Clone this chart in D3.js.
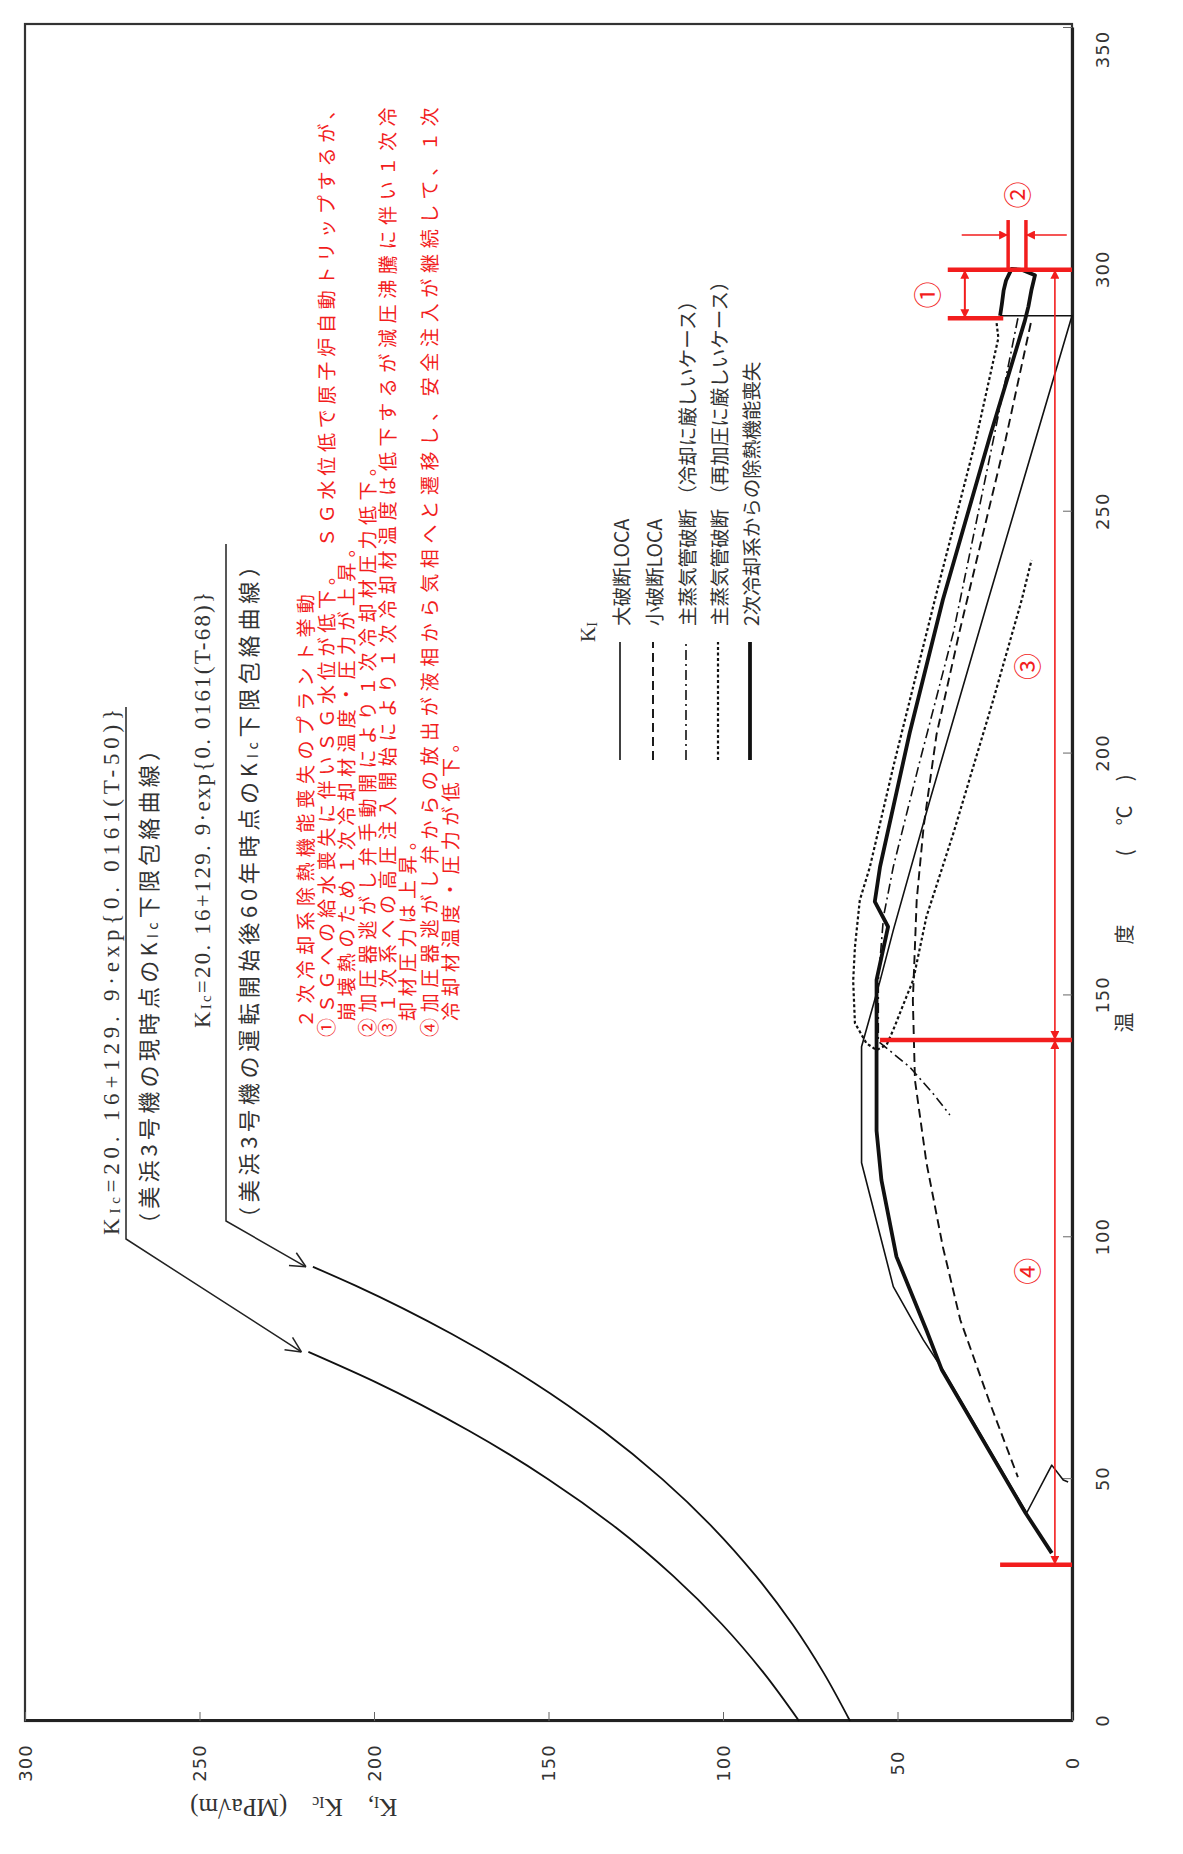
<!DOCTYPE html>
<html><head><meta charset="utf-8">
<script src="https://cdn.jsdelivr.net/npm/d3@7"></script>
<style>body{margin:0;background:#fff}</style>
</head><body>
<svg id="c" width="1183" height="1854"></svg>
<script>
// ---------------- data (T in °C, K in MPa√m) ----------------
const tempTicks=[0,50,100,150,200,250,300,350];
const kTicks=[0,50,100,150,200,250,300];

// KIc lower bound envelope curves
const kicNowT=[0,10,20,30,40,50,60,70,76.3];
const kicNowK=[78.2,88.4,100.3,114.3,130.7,150.1,172.8,199.4,218.8];
const kic60T=[0,10,20,30,40,50,60,70,80,90,93.9];
const kic60K=[63.6,71.2,80.1,90.6,102.9,117.4,134.4,154.3,177.7,205.3,217.5];

// KI transients [T, K]
const largeLOCA=[[290.5,20.6],[290.5,0],[231.8,24],[190.4,40.7],[163.5,51.2],[153,55],[139.4,60.3],[115.4,60.3],[89.8,51.2],[78.8,42.6],[72.6,37],[43,13],[52.9,5.8],[49.8,2.5],[49.4,1.1]];
const smallLOCA=[[289,11.8],[265,19],[225.6,32.1],[204,38.8],[185,42.5],[169.7,44.5],[149,45.6],[132.5,45],[115.4,41.7],[98,37],[82.9,32],[65.7,23.5],[50.4,15.5]];
const msCool=[[290,15.5],[265,22.5],[225,34],[197.3,44],[176.6,51.2],[166.3,54],[153,55.5],[140.5,55.5],[135.2,46.5],[129.7,39.8],[125.3,35]];
const msRepress=[[289,21.6],[285.9,21.1],[265,27.5],[231.8,39.3],[197.3,51.2],[176.6,57.9],[169.7,60.8],[160,62.2],[153,62.7],[144.3,62.2],[140.1,58.9],[138.7,56],[139.8,53.1],[142.9,51.2],[149.8,47.4],[153.2,45.5],[166.3,41.7],[183.5,34],[211,22.6],[231.8,14.4],[240,11.6]];
const secLoss=[[290.5,20.6],[292.9,20.1],[295.7,19.6],[297.8,18.9],[300.2,17.3],[300,14.4],[298.9,10.6],[295.9,11.6],[292.4,12.5],[289.5,13.5],[265.6,23.5],[231.8,37],[204.3,46.5],[176.6,55],[169.4,56.5],[164.2,52.7],[153.2,56],[139.4,56],[122,56],[111.8,54.6],[96,50.3],[80.8,41.7],[72.6,37.3],[43,13.3],[34.7,5.8]];

const legendNames=["大破断LOCA","小破断LOCA","主蒸気管破断 （冷却に厳しいケース）","主蒸気管破断 （再加圧に厳しいケース）","2次冷却系からの除熱機能喪失"];

const noteLines=["２次冷却系除熱機能喪失のプラント挙動",
"①ＳＧへの給水喪失に伴いＳＧ水位が低下。　ＳＧ水位低で原子炉自動トリップするが、",
"崩壊熱のため１次冷却材温度・圧力が上昇。",
"②加圧器逃がし弁手動開により１次冷却材圧力低下。",
"③１次系への高圧注入開始により１次冷却材温度は低下するが減圧沸騰に伴い１次冷",
"却材圧力は上昇。",
"④加圧器逃がし弁からの放出が液相から気相へと遷移し、安全注入が継続して、１次",
"冷却材温度・圧力が低下。"];

// phase boundaries (°C) and markers
const phaseT=[300,290,140.8,32.3];
const markLabels=[["①",294.8,41.7],["②",315.5,15.9],["③",218,12.9],["④",93,12.9]];

// ---------------- layout ----------------
const W=1183,H=1854;
const CJK="'Noto Sans CJK JP',sans-serif";
const SERIF="'Liberation Serif','Noto Sans CJK JP',serif";
const RED="#f21d1d";
const svg=d3.select("#c");
const defs=svg.append("defs");
defs.append("marker").attr("id","ra").attr("viewBox","0 0 10 10").attr("refX",10).attr("refY",5)
  .attr("markerWidth",9).attr("markerHeight",9).attr("markerUnits","userSpaceOnUse")
  .attr("orient","auto-start-reverse").append("path").attr("d","M0,0L10,5L0,10z").attr("fill",RED);

// whole chart is rotated 90° counter-clockwise
const g=svg.append("g").attr("transform",`translate(0,${H}) rotate(-90)`);
const x=d3.scaleLinear().domain([0,350]).range([133,1826]);
const y=d3.scaleLinear().domain([0,300]).range([1072,25]);

// frame
g.append("rect").attr("x",x(0)).attr("y",y(300)).attr("width",x(350)+4-x(0)).attr("height",y(0)-y(300))
  .attr("fill","none").attr("stroke","#333").attr("stroke-width",2.2);

// axes
const gx=g.append("g").attr("transform",`translate(0,${y(0)})`)
  .call(d3.axisBottom(x).tickValues(tempTicks).tickSizeInner(-9).tickSizeOuter(0).tickFormat(d3.format("d")));
gx.select(".domain").attr("stroke","#222").attr("stroke-width",3.2);
gx.selectAll(".tick line").attr("stroke","#666").attr("stroke-width",1);
gx.selectAll(".tick text").attr("y",31).attr("dy","0.35em").attr("fill","#333")
  .attr("font-family","'DejaVu Sans',sans-serif").attr("font-size",18).attr("letter-spacing",1)
  .attr("x",d=>d===350?-22:0);

const gy=g.append("g").attr("transform",`translate(${x(0)},0)`)
  .call(d3.axisLeft(y).tickValues(kTicks).tickSizeInner(-9).tickSizeOuter(0).tickFormat(d3.format("d")));
gy.select(".domain").attr("stroke","#222").attr("stroke-width",3.2);
gy.selectAll(".tick line").attr("stroke","#666").attr("stroke-width",1);
gy.selectAll(".tick text").attr("x",-42).attr("dy","0.35em").attr("text-anchor","middle").attr("fill","#333")
  .attr("font-family","'DejaVu Sans',sans-serif").attr("font-size",18).attr("letter-spacing",1);

// axis titles
g.append("text").attr("x",x(169)).attr("y",1123).attr("text-anchor","middle").attr("dominant-baseline","central")
  .attr("font-family",CJK).attr("font-size",20).attr("fill","#333").attr("textLength",258).attr("lengthAdjust","spacing")
  .text("温　度　(℃)");
const kt=g.append("text").attr("transform",`translate(46,${y(223)}) rotate(-90)`).attr("text-anchor","middle")
  .attr("dominant-baseline","central").attr("font-family",SERIF).attr("font-size",25).attr("fill","#333");
kt.append("tspan").text("K");kt.append("tspan").attr("font-size",16).attr("dy",5).text("I");
kt.append("tspan").attr("dy",-5).text(",\u2003K");kt.append("tspan").attr("font-size",16).attr("dy",5).text("Ic");
kt.append("tspan").attr("dy",-5).text("\u2003(MPa√m)");

// curves
const line=d3.line().x(d=>x(d[0])).y(d=>y(d[1]));
const smooth=d3.line().x(d=>x(d[0])).y(d=>y(d[1])).curve(d3.curveMonotoneX);
g.append("path").attr("d",smooth(kicNowT.map((t,i)=>[t,kicNowK[i]]))).attr("fill","none").attr("stroke","#111").attr("stroke-width",1.8);
g.append("path").attr("d",smooth(kic60T.map((t,i)=>[t,kic60K[i]]))).attr("fill","none").attr("stroke","#111").attr("stroke-width",1.8);

const styles=[
  {d:largeLOCA,w:1.6,dash:null},
  {d:smallLOCA,w:1.9,dash:"9,5"},
  {d:msCool,w:1.6,dash:"10,4,2,4"},
  {d:msRepress,w:2.2,dash:"3,2.5"},
  {d:secLoss,w:3.8,dash:null}
];
styles.forEach(s=>{
  g.append("path").attr("d",line(s.d)).attr("fill","none").attr("stroke","#111")
   .attr("stroke-width",s.w).attr("stroke-dasharray",s.dash).attr("stroke-linejoin","round");
});

// legend
const lg=g.append("g");
const kl=lg.append("text").attr("x",1212).attr("y",588).attr("dominant-baseline","central")
  .attr("font-family",SERIF).attr("font-size",21).attr("fill","#333");
kl.append("tspan").text("K");kl.append("tspan").attr("font-size",14).attr("dy",4).text("I");
const rowV=[620,653,686,718,750];
legendNames.forEach((n,i)=>{
  lg.append("line").attr("x1",1094).attr("x2",1212).attr("y1",rowV[i]).attr("y2",rowV[i])
    .attr("stroke","#111").attr("stroke-width",styles[i].w).attr("stroke-dasharray",styles[i].dash);
  lg.append("text").attr("x",1228).attr("y",rowV[i]).attr("dominant-baseline","central")
    .attr("font-family",CJK).attr("font-size",19.5).attr("fill","#333").text(n);
});

// KIc formulas and leaders
function kicText(sel,rest,fs){
  sel.append("tspan").text("K");
  sel.append("tspan").attr("font-size",fs*0.65).attr("dy",4).text("Ic");
  sel.append("tspan").attr("dy",-4).text(rest);
}
const f1=g.append("text").attr("x",619).attr("y",111).attr("dominant-baseline","central")
  .attr("font-family",SERIF).attr("font-size",23).attr("fill","#333").attr("textLength",526).attr("lengthAdjust","spacing");
kicText(f1,"=20. 16+129. 9·exp{0. 0161(T-50)}",23);
const p1=g.append("text").attr("x",619).attr("y",147).attr("dominant-baseline","central")
  .attr("font-family",CJK).attr("font-size",22).attr("fill","#333").attr("textLength",496).attr("lengthAdjust","spacing");
p1.append("tspan").text("（美浜3号機の現時点の");kicText(p1,"下限包絡曲線）",22);
const f2=g.append("text").attr("x",826).attr("y",202).attr("dominant-baseline","central")
  .attr("font-family",SERIF).attr("font-size",23).attr("fill","#333").attr("textLength",436).attr("lengthAdjust","spacing");
kicText(f2,"=20. 16+129. 9·exp{0. 0161(T-68)}",23);
const p2=g.append("text").attr("x",625).attr("y",247).attr("dominant-baseline","central")
  .attr("font-family",CJK).attr("font-size",22).attr("fill","#333").attr("textLength",674).attr("lengthAdjust","spacing");
p2.append("tspan").text("（美浜3号機の運転開始後60年時点の");kicText(p2,"下限包絡曲線）",22);

function leader(top,corner,tip){
  g.append("path").attr("d",`M${top[0]},${top[1]}L${corner[0]},${corner[1]}L${tip[0]},${tip[1]}`)
    .attr("fill","none").attr("stroke","#222").attr("stroke-width",1.5);
  const a=Math.atan2(tip[1]-corner[1],tip[0]-corner[0]),L=17;
  [0.45,-0.45].forEach(da=>{
    g.append("line").attr("x1",tip[0]).attr("y1",tip[1])
      .attr("x2",tip[0]-L*Math.cos(a+da)).attr("y2",tip[1]-L*Math.sin(a+da))
      .attr("stroke","#222").attr("stroke-width",1.5);
  });
}
leader([1147,126],[615,126],[x(kicNowT.at(-1)),y(kicNowK.at(-1))-7]);
leader([1310,226],[633,226],[x(kic60T.at(-1)),y(kic60K.at(-1))-7]);

// red notes
const noteV=[304,325,345,366,386,406,428,449];
const noteU=[826,817,833,817,817,833,817,833];
noteLines.forEach((t,i)=>{
  const tx=g.append("text").attr("x",noteU[i]).attr("y",noteV[i]).attr("dominant-baseline","central")
    .attr("font-family",CJK).attr("font-size",19).attr("fill",RED).attr("letter-spacing",5.4).text(t);
  if(i===1) tx.attr("textLength",942).attr("lengthAdjust","spacing");
  if(i===4||i===6) tx.attr("textLength",935).attr("lengthAdjust","spacing");
});

// red phase markers
const red=(a,b,w,m1,m2)=>{const l=g.append("line").attr("x1",a[0]).attr("y1",a[1]).attr("x2",b[0]).attr("y2",b[1])
  .attr("stroke",RED).attr("stroke-width",w);if(m1)l.attr("marker-start","url(#ra)");if(m2)l.attr("marker-end","url(#ra)");};
red([x(phaseT[0]),y(35.6)],[x(phaseT[0]),y(0)],4.5);
red([x(phaseT[1]),y(35.6)],[x(phaseT[1]),y(19.7)],4.5);
red([x(phaseT[2]),y(55)],[x(phaseT[2]),y(0)],4.5);
red([x(phaseT[3]),y(20.6)],[x(phaseT[3]),y(0)],4.5);
red([x(phaseT[1]),y(30.7)],[x(phaseT[0]),y(30.7)],2,true,true);
red([x(phaseT[0]),y(4.9)],[x(phaseT[2]),y(4.9)],1.6,true,true);
red([x(phaseT[2]),y(4.9)],[x(phaseT[3]),y(4.9)],1.6,true,true);
red([x(300),y(18.3)],[x(310.3),y(18.3)],3.5);
red([x(300),y(13.2)],[x(310.3),y(13.2)],3.5);
red([x(307.2),y(31.6)],[x(307.2),y(18.3)],1.6,false,true);
red([x(307.2),y(1.5)],[x(307.2),y(13.2)],1.6,false,true);
markLabels.forEach(m=>{
  g.append("text").attr("x",x(m[1])).attr("y",y(m[2])).attr("text-anchor","middle").attr("dominant-baseline","central")
   .attr("font-family",CJK).attr("font-size",27).attr("fill",RED).text(m[0]);
});
</script>
</body></html>
